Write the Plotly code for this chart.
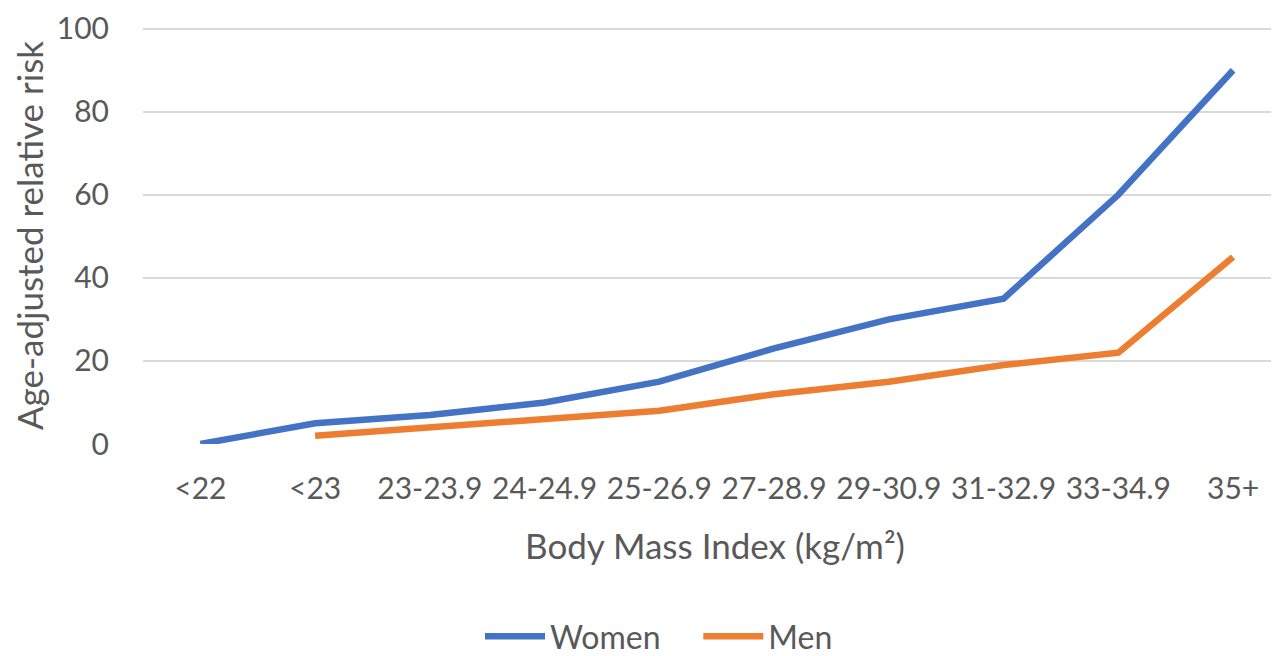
import plotly.graph_objects as go

categories = ["<22", "<23", "23-23.9", "24-24.9", "25-26.9", "27-28.9", "29-30.9", "31-32.9", "33-34.9", "35+"]
women = [0, 5, 7, 10, 15, 23, 30, 35, 60, 90]
men = [None, 2, 4, 6, 8, 12, 15, 19, 22, 45]
y_ticks = [0, 20, 40, 60, 80, 100]

FONT = "Lato"
TXT = "#595959"

fig = go.Figure()
fig.add_trace(go.Scatter(x=categories, y=women, mode="lines", name="Women&nbsp;&nbsp;&nbsp;&nbsp;",
                         line=dict(color="#4472C4", width=6.5)))
fig.add_trace(go.Scatter(x=categories, y=men, mode="lines", name="Men",
                         line=dict(color="#ED7D31", width=6.5)))

fig.update_layout(
    width=1279, height=656,
    margin=dict(l=135, r=0, t=19, b=220, autoexpand=False),
    paper_bgcolor="white", plot_bgcolor="white",
    font=dict(family=FONT, size=30, color=TXT),
    showlegend=True,
    legend=dict(orientation="h", xref="container", yref="container",
                x=0.509, y=0.0, xanchor="center", yanchor="bottom",
                font=dict(size=32, color=TXT), itemwidth=60,
                tracegroupgap=0),
    xaxis=dict(
        type="category", range=[-0.5, 9.47], showgrid=False, zeroline=False,
        showline=False, ticks="", ticklabelstandoff=24,
        tickfont=dict(size=30, color=TXT),
        title=dict(text="Body Mass Index (kg/m²)", font=dict(size=35, color=TXT), standoff=30),
    ),
    yaxis=dict(
        range=[0, 100.4], tickvals=y_ticks, showgrid=True, gridcolor="#D9D9D9", gridwidth=2,
        zeroline=False, showline=False, ticks="", ticklabelstandoff=33,
        tickfont=dict(size=30, color=TXT),
        title=dict(text="Age-adjusted relative risk", font=dict(size=35, color=TXT), standoff=14),
    ),
)

fig.write_html("out.html")
